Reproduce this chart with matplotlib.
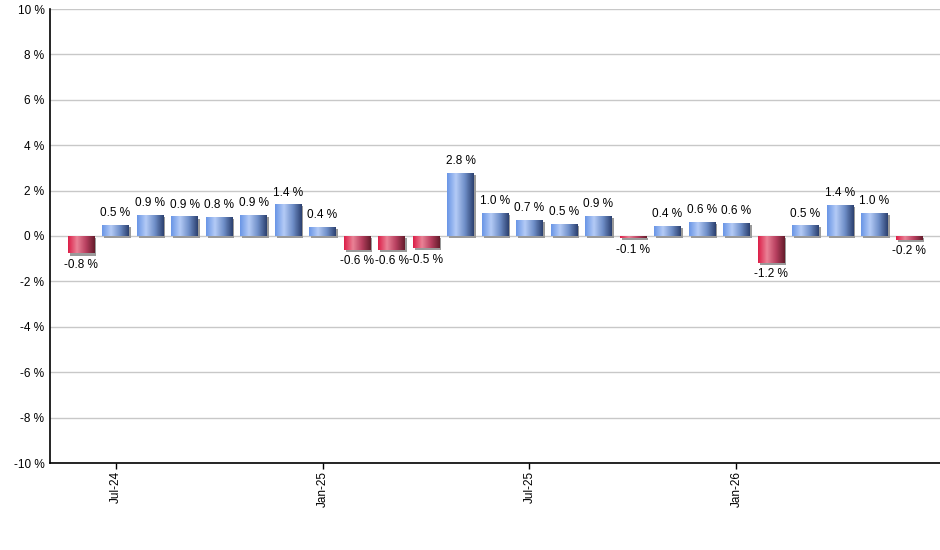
import numpy as np
import matplotlib
matplotlib.use('Agg')
import matplotlib.pyplot as plt
from matplotlib.colors import LinearSegmentedColormap
import matplotlib.patheffects as pe

plt.rcParams['font.family'] = ['Liberation Sans', 'DejaVu Sans']

months = ['Jun-24', 'Jul-24', 'Aug-24', 'Sep-24', 'Oct-24', 'Nov-24', 'Dec-24',
          'Jan-25', 'Feb-25', 'Mar-25', 'Apr-25', 'May-25', 'Jun-25', 'Jul-25',
          'Aug-25', 'Sep-25', 'Oct-25', 'Nov-25', 'Dec-25', 'Jan-26', 'Feb-26',
          'Mar-26', 'Apr-26', 'May-26', 'Jun-26']
values = [-0.77, 0.49, 0.93, 0.86, 0.84, 0.93, 1.40, 0.40, -0.60, -0.60, -0.54,
          2.78, 1.02, 0.71, 0.54, 0.88, -0.10, 0.44, 0.62, 0.59, -1.17, 0.47,
          1.38, 1.02, -0.17]
tick_months = ['Jul-24', 'Jan-25', 'Jul-25', 'Jan-26']

blue = LinearSegmentedColormap.from_list('b', ['#6a96e6', '#b4cbf6', '#6f8fc8', '#2c4170'])
red = LinearSegmentedColormap.from_list('r', ['#dc1f48', '#ea8296', '#b84060', '#661c2c'])
grad = np.linspace(0, 1, 64).reshape(1, -1)

fig = plt.figure(figsize=(9.4, 5.5), dpi=100)
ax = fig.add_axes([50 / 940, 1 - 463 / 550, 890 / 940, 454 / 550])

x = np.arange(len(values))
bars = ax.bar(x, values, width=0.77, color='#a0a0a0', zorder=2,
              path_effects=[pe.SimplePatchShadow(offset=(1.5, -1.5), shadow_rgbFace='#9a9a9a', alpha=1.0),
                            pe.Normal()])
for b, v in zip(bars, values):
    x0 = b.get_x()
    x1 = x0 + b.get_width()
    im = ax.imshow(grad, cmap=blue if v >= 0 else red, aspect='auto',
                   extent=(x0, x1, min(0, v), max(0, v)), zorder=3, interpolation='bilinear')
    im.set_clip_path(b)
    if v >= 0:
        ax.annotate(f'{v:.1f} %', (x0 + b.get_width() / 2, v), xytext=(0, 4),
                    textcoords='offset points', ha='center', va='bottom', fontsize=8.5, zorder=4)
    else:
        ax.annotate(f'{v:.1f} %', (x0 + b.get_width() / 2, v), xytext=(0, -4),
                    textcoords='offset points', ha='center', va='top', fontsize=8.5, zorder=4)

ax.set_xlim(-0.9, len(values) - 0.1)
ax.set_ylim(-10, 10)
ax.set_yticks(np.arange(-10, 11, 2))
ax.set_yticklabels([f'{t} %' for t in range(-10, 11, 2)], fontsize=8.5)
ax.tick_params(axis='y', length=0, pad=4)
ax.set_xticks([months.index(m) for m in tick_months])
ax.set_xticklabels(tick_months, rotation=90, fontsize=8.5)
ax.tick_params(axis='x', length=4, width=1, pad=2)
ax.grid(axis='y', color='#c8c8c8', lw=1)
ax.set_axisbelow(True)
for s in ['top', 'right']:
    ax.spines[s].set_visible(False)
for s in ['left', 'bottom']:
    ax.spines[s].set_linewidth(1.2)

fig.savefig('out.png', dpi=100, facecolor='white')
